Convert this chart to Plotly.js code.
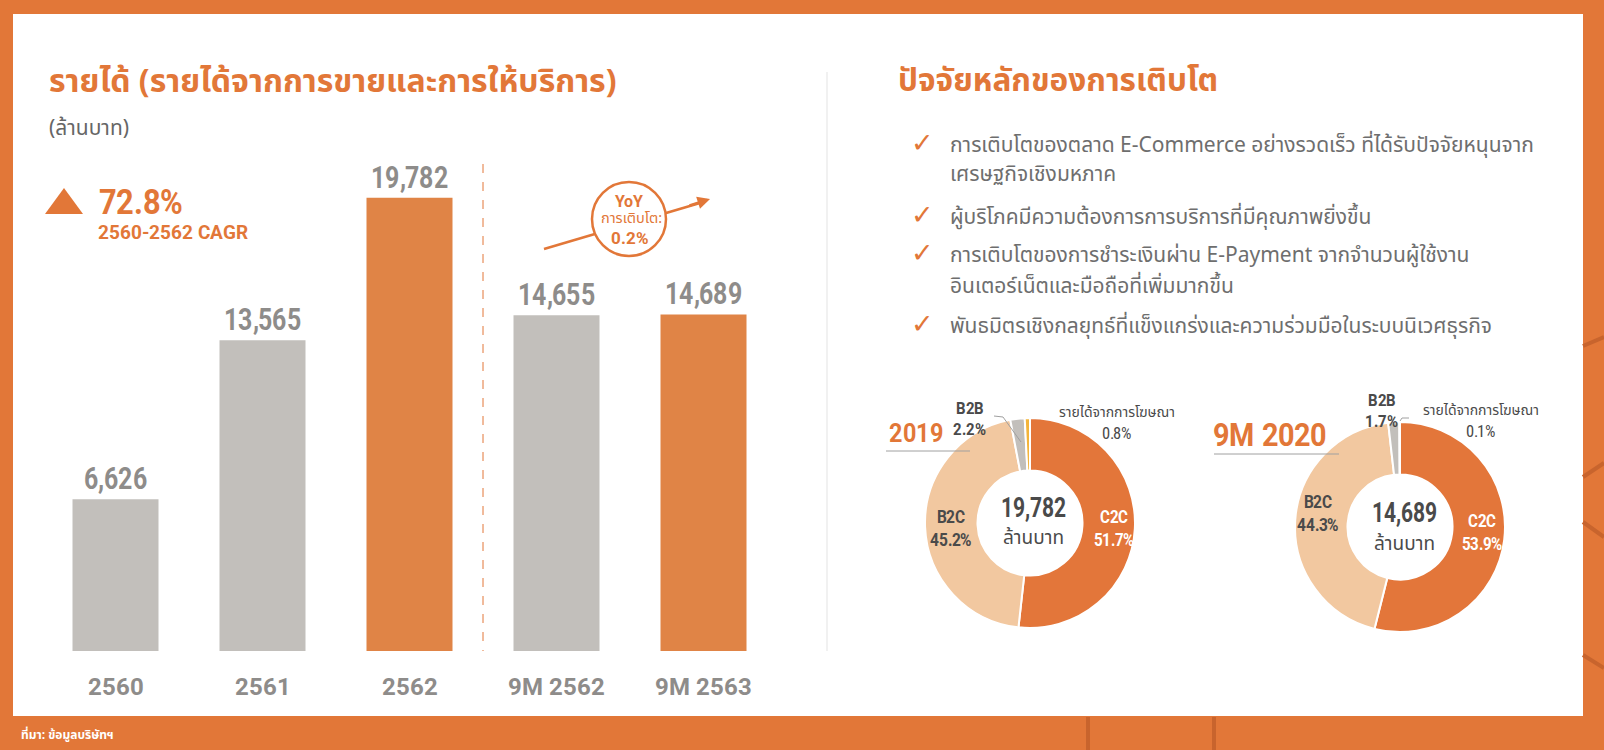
<!DOCTYPE html>
<html>
<head>
<meta charset="utf-8">
<script src="https://cdn.plot.ly/plotly-3.0.1.min.js"></script>
<style>
@font-face { font-family: 'NumCond'; font-weight: 700;
  src: local('Liberation Sans Narrow Bold'), local('LiberationSansNarrow-Bold'), local('Roboto Condensed Bold'), local('RobotoCondensed-Bold'), local('DejaVu Sans Condensed Bold'), local('DejaVuSansCondensed-Bold'); }
@font-face { font-family: 'NumCond'; font-weight: 400;
  src: local('Liberation Sans Narrow'), local('LiberationSansNarrow-Regular'), local('Roboto Condensed'), local('RobotoCondensed-Regular'), local('DejaVu Sans Condensed'), local('DejaVuSansCondensed'); }
html,body{margin:0;padding:0;background:#E27738;}#chart{width:1604px;height:750px;}
</style>
</head>
<body>
<div id="chart"></div>
<script>
// ---------------- DATA ----------------
const categories = ['2560', '2561', '2562', '9M 2562', '9M 2563'];
const revenue = [6626, 13565, 19782, 14655, 14689];
const highlight = [false, false, true, false, true];
const cagrValue = '72.8%';
const cagrLabel = '2560-2562 CAGR';
const yoyTitle = 'YoY';
const yoyLabel = 'การเติบโต:';
const yoyValue = '0.2%';

const segments = ['C2C', 'B2C', 'B2B', 'รายได้จากการโฆษณา'];
const share2019 = [51.7, 45.2, 2.2, 0.8];
const share9M2020 = [53.9, 44.3, 1.7, 0.1];
const pieTitles = ['2019', '9M 2020'];
const pieTotals = [19782, 14689];
const unitLabel = 'ล้านบาท';

const leftTitle = 'รายได้ (รายได้จากการขายและการให้บริการ)';
const leftUnit = '(ล้านบาท)';
const rightTitle = 'ปัจจัยหลักของการเติบโต';
const factors = [
  ['การเติบโตของตลาด E-Commerce อย่างรวดเร็ว ที่ได้รับปัจจัยหนุนจาก', 'เศรษฐกิจเชิงมหภาค'],
  ['ผู้บริโภคมีความต้องการการบริการที่มีคุณภาพยิ่งขึ้น'],
  ['การเติบโตของการชำระเงินผ่าน E-Payment จากจำนวนผู้ใช้งาน', 'อินเตอร์เน็ตและมือถือที่เพิ่มมากขึ้น'],
  ['พันธมิตรเชิงกลยุทธ์ที่แข็งแกร่งและความร่วมมือในระบบนิเวศธุรกิจ']
];
const sourceNote = 'ที่มา: ข้อมูลบริษัทฯ';

// ---------------- STYLE ----------------
const W = 1604, H = 750;
const px = x => x / W;
const py = y => 1 - y / H;
const ORANGE = '#E27738';
const BAR_OR = '#E08446';
const GRAY_BAR = '#C2BFBB';
const NUM_GRAY = '#8E8C8A';
const DARK = '#4A4A4A';
const NUM_FONT = 'NumCond, "Liberation Sans Narrow", "DejaVu Sans Condensed", sans-serif';
const THAI_FONT = '"Noto Sans Thai", "Noto Sans", sans-serif';
const fmt = v => v.toLocaleString('en-US');

const pieColors = ['#E3763A', '#F2C8A0', '#C2BFBB', '#F3B43A'];

const squeezeList = [];

function draw() {
const barTrace = {
  type: 'bar', x: categories, y: revenue,
  marker: { color: highlight.map(h => h ? BAR_OR : GRAY_BAR) },
  texttemplate: '%{y:,}', textposition: 'outside', constraintext: 'none', cliponaxis: false,
  textfont: { family: NUM_FONT, size: 29.5, color: NUM_GRAY, weight: 'bold' },
  hoverinfo: 'skip', xaxis: 'x', yaxis: 'y'
};

function pieTrace(vals, cx, cy, r) {
  return {
    type: 'pie', values: vals, labels: segments, sort: false, direction: 'clockwise', rotation: 0,
    hole: 0.5, marker: { colors: pieColors, line: { color: '#FFFFFF', width: 2 } },
    textinfo: 'none', hoverinfo: 'skip', showlegend: false,
    domain: { x: [px(cx - r), px(cx + r)], y: [py(cy + r), py(cy - r)] }
  };
}

const data = [barTrace, pieTrace(share2019, 1030, 523, 105), pieTrace(share9M2020, 1400, 527, 105)];

// ---------------- SHAPES ----------------
const shapes = [];
shapes.push({ type: 'rect', xref: 'paper', yref: 'paper', x0: px(13), x1: px(1583), y0: py(716), y1: py(14), fillcolor: '#FFFFFF', line: { width: 0 }, layer: 'below' });
const deco = [[1583, 346, 1604, 337], [1583, 477, 1604, 463], [1583, 522, 1604, 537], [1583, 655, 1604, 668], [1088, 717, 1088, 750], [1214, 717, 1214, 750]];
deco.forEach(d => shapes.push({ type: 'line', xref: 'paper', yref: 'paper', x0: px(d[0]), y0: py(d[1]), x1: px(d[2]), y1: py(d[3]), line: { color: '#C8642D', width: 4 }, layer: 'below' }));
shapes.push({ type: 'line', xref: 'paper', yref: 'paper', x0: px(827), x1: px(827), y0: py(72), y1: py(651), line: { color: '#E3E3E3', width: 1 } });
shapes.push({ type: 'line', xref: 'paper', yref: 'paper', x0: px(483), x1: px(483), y0: py(164), y1: py(651), line: { color: ORANGE, width: 1, dash: 'dash' } });
shapes.push({ type: 'path', xref: 'paper', yref: 'paper', path: `M ${px(45)} ${py(214)} L ${px(83)} ${py(214)} L ${px(64)} ${py(188)} Z`, fillcolor: ORANGE, line: { width: 0 } });
shapes.push({ type: 'line', xref: 'paper', yref: 'paper', x0: px(544), y0: py(249), x1: px(700), y1: py(203), line: { color: ORANGE, width: 2.5 } });
shapes.push({ type: 'circle', xref: 'paper', yref: 'paper', x0: px(592), x1: px(666), y0: py(256), y1: py(182), fillcolor: '#FFFFFF', line: { color: ORANGE, width: 2.5 } });
shapes.push({ type: 'line', xref: 'paper', yref: 'paper', x0: px(886), x1: px(970), y0: py(451), y1: py(451), line: { color: '#A0A0A0', width: 1 } });
shapes.push({ type: 'line', xref: 'paper', yref: 'paper', x0: px(1214), x1: px(1339), y0: py(454), y1: py(454), line: { color: '#A0A0A0', width: 1 } });
shapes.push({ type: 'path', xref: 'paper', yref: 'paper', path: `M ${px(994)} ${py(416)} L ${px(1003)} ${py(417)} L ${px(1021)} ${py(442)}`, line: { color: '#A0A0A0', width: 1 } });
shapes.push({ type: 'path', xref: 'paper', yref: 'paper', path: `M ${px(1400)} ${py(421)} L ${px(1402)} ${py(418)} L ${px(1409)} ${py(418)}`, line: { color: '#A0A0A0', width: 1 } });

// ---------------- ANNOTATIONS ----------------
const ann = [];
function T(text, x, y, size, color, opts, squeeze) {
  if (squeeze) squeezeList.push([ann.length, squeeze]);
  ann.push(Object.assign({ text: text, xref: 'paper', yref: 'paper', x: px(x), y: py(y), xanchor: 'center', yanchor: 'middle', showarrow: false,
    font: { family: THAI_FONT, size: size, color: color } }, opts || {}));
}
const nfont = (size, color, bold) => ({ family: NUM_FONT, size: size, color: color, weight: bold ? 'bold' : 'normal' });
T(leftTitle, 47, 82, 32, ORANGE, { xanchor: 'left', font: { family: THAI_FONT, size: 32, color: ORANGE, weight: 'bold' } });
T(leftUnit, 47, 129, 21, '#666666', { xanchor: 'left' });
T(rightTitle, 896, 82, 31.5, ORANGE, { xanchor: 'left', font: { family: THAI_FONT, size: 31.5, color: ORANGE, weight: 'bold' } });
T(cagrValue, 91, 203, 35, ORANGE, { xanchor: 'left', font: nfont(35, ORANGE, true) }, 0.88);
T(cagrLabel, 96, 232, 19, ORANGE, { xanchor: 'left', font: nfont(19, ORANGE, true) });
T(yoyTitle, 629, 202, 16, ORANGE, { font: nfont(16, ORANGE, true) });
T(yoyLabel, 631, 219, 14.5, ORANGE);
T(yoyValue, 630, 238, 16.5, ORANGE, { font: nfont(16.5, ORANGE, true) });
ann.push({ text: '', xref: 'paper', yref: 'paper', x: px(710), y: py(199), ax: -22, ay: 7, showarrow: true, arrowhead: 2, arrowsize: 1, arrowwidth: 2.5, arrowcolor: ORANGE });
const lineYs = [[145, 174], [217], [256, 286], [327]];
factors.forEach((lines, i) => {
  T('✓', 922, lineYs[i][0] - 3, 27, ORANGE, { font: { family: 'DejaVu Sans', size: 27, color: ORANGE, weight: 'bold' } });
  lines.forEach((ln, j) => T(ln, 948, lineYs[i][j], 21, '#6E6E6E', { xanchor: 'left' }));
});
const pies = [
  { vals: share2019, total: pieTotals[0], title: pieTitles[0], titleX: 884, titleY: 433, titleSize: 26, cx: 1033, cy: [507, 538],
    c2c: [1114, 528], b2c: [951, 528], b2b: [970, 419], ads: [1117, 422] },
  { vals: share9M2020, total: pieTotals[1], title: pieTitles[1], titleX: 1205, titleY: 435, titleSize: 32, cx: 1404, cy: [512, 544],
    c2c: [1482, 532], b2c: [1318, 513], b2b: [1382, 411], ads: [1481, 420] }
];
pies.forEach((p, k) => {
  T(p.title, p.titleX, p.titleY, p.titleSize, ORANGE, { xanchor: 'left', font: nfont(p.titleSize, ORANGE, true) }, 0.9);
  T(fmt(p.total), p.cx, p.cy[0], 28, DARK, { font: nfont(28, DARK, true) }, 0.75);
  T(unitLabel, p.cx, p.cy[1], 19, DARK);
  T(segments[0] + '<br>' + p.vals[0].toFixed(1) + '%', p.c2c[0], p.c2c[1], 17.5, '#FFFFFF', { font: nfont(17.5, '#FFFFFF', true) }, 0.84);
  T(segments[1] + '<br>' + p.vals[1].toFixed(1) + '%', p.b2c[0], p.b2c[1], 17.5, DARK, { font: nfont(17.5, DARK, true) }, 0.86);
  T(segments[2] + '<br>' + p.vals[2].toFixed(1) + '%', p.b2b[0], p.b2b[1], 16.5, DARK, { font: nfont(16.5, DARK, true) }, 0.88);
  T(segments[3], p.ads[0], p.ads[1] - 10, 14, DARK);
  T(p.vals[3].toFixed(1) + '%', p.ads[0], p.ads[1] + 11, 16.5, DARK, { font: nfont(16.5, DARK, false) });
});
T(sourceNote, 19, 735, 12, '#FFFFFF', { xanchor: 'left', font: { family: THAI_FONT, size: 12, color: '#FFFFFF', weight: 'bold' } });

const layout = {
  width: W, height: H, margin: { l: 0, r: 0, t: 0, b: 0 },
  paper_bgcolor: ORANGE, plot_bgcolor: 'rgba(0,0,0,0)',
  showlegend: false, bargap: 0.415,
  xaxis: { domain: [px(42), px(777)], type: 'category', showgrid: false, zeroline: false, showline: false, ticks: '',
    tickfont: nfont(23.5, NUM_GRAY, true), ticklabelstandoff: 19, fixedrange: true },
  yaxis: { domain: [py(651), py(147)], range: [0, 22000], visible: false, fixedrange: true },
  shapes: shapes, annotations: ann
};

Plotly.newPlot('chart', data, layout, { displayModeBar: false, staticPlot: true }).then(gd => {
  function squeeze(textEl, f) {
    const lines = textEl.querySelectorAll('tspan.line');
    const targets = lines.length ? Array.from(lines) : [textEl];
    targets.forEach(el => {
      const L = el.getComputedTextLength();
      el.setAttribute('textLength', (L * f).toFixed(1));
      el.setAttribute('lengthAdjust', 'spacingAndGlyphs');
    });
  }
  gd.querySelectorAll('text.bartext').forEach(t => squeeze(t, 0.83));
  squeezeList.forEach(([idx, f]) => {
    const t = gd.querySelector(`.annotation[data-index="${idx}"] text.annotation-text`);
    if (t) squeeze(t, f);
  });
});
}

const loads = [document.fonts.load('700 20px NumCond'), document.fonts.load('400 20px NumCond')];
Promise.race([Promise.all(loads), new Promise(r => setTimeout(r, 800))]).then(draw, draw);
</script>
</body>
</html>
